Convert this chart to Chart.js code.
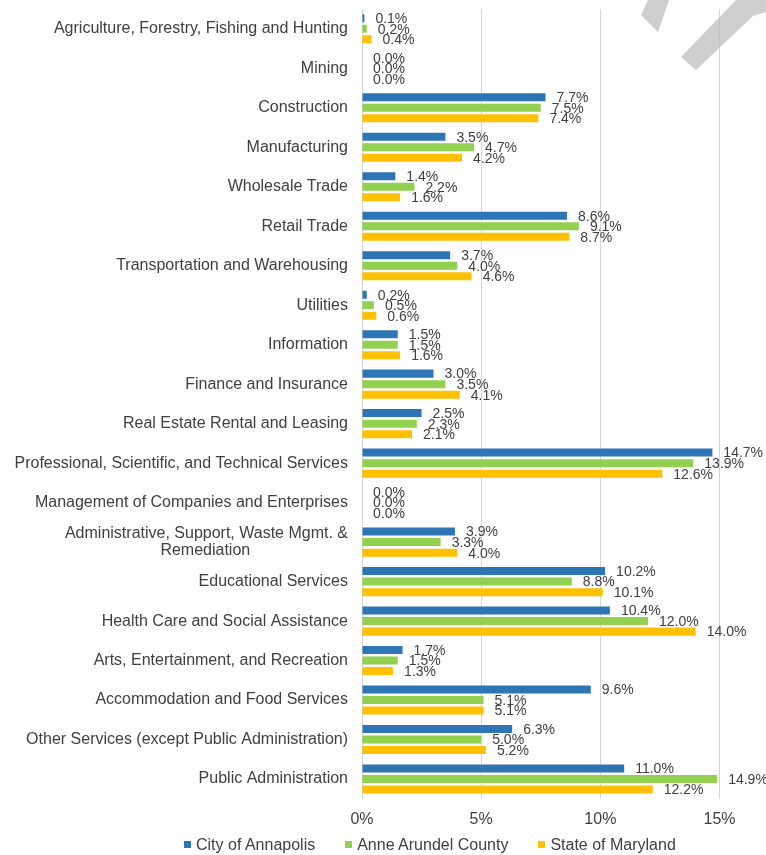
<!DOCTYPE html>
<html>
<head>
<meta charset="utf-8">
<script src="https://cdn.jsdelivr.net/npm/chart.js@4.4.1/dist/chart.umd.min.js"></script>
<style>
  html, body { margin: 0; padding: 0; background: #fff; }
  #wrap { position: relative; width: 766px; height: 855px; overflow: hidden; }
  #legend { position: absolute; left: 184px; top: 836px; display: flex; gap: 30px;
    font: 16px "Liberation Sans", Arial, sans-serif; color: #404040; white-space: nowrap; }
  #legend span.box { display: inline-block; width: 7px; height: 7px; margin-right: 5px; vertical-align: 2px; }
</style>
</head>
<body>
<div id="wrap">
  <canvas id="grafico" width="766" height="855"></canvas>
  <div id="legend"></div>
</div>
<script>
const industrias = [
  'Agriculture, Forestry, Fishing and Hunting',
  'Mining',
  'Construction',
  'Manufacturing',
  'Wholesale Trade',
  'Retail Trade',
  'Transportation and Warehousing',
  'Utilities',
  'Information',
  'Finance and Insurance',
  'Real Estate Rental and Leasing',
  'Professional, Scientific, and Technical Services',
  'Management of Companies and Enterprises',
  ['Administrative, Support, Waste Mgmt. &', 'Remediation'],
  'Educational Services',
  'Health Care and Social Assistance',
  'Arts, Entertainment, and Recreation',
  'Accommodation and Food Services',
  'Other Services (except Public Administration)',
  'Public Administration'
];
const annapolis = [0.1, 0.0, 7.7, 3.5, 1.4, 8.6, 3.7, 0.2, 1.5, 3.0, 2.5, 14.7, 0.0, 3.9, 10.2, 10.4, 1.7, 9.6, 6.3, 11.0];
const anneArundel = [0.2, 0.0, 7.5, 4.7, 2.2, 9.1, 4.0, 0.5, 1.5, 3.5, 2.3, 13.9, 0.0, 3.3, 8.8, 12.0, 1.5, 5.1, 5.0, 14.9];
const maryland = [0.4, 0.0, 7.4, 4.2, 1.6, 8.7, 4.6, 0.6, 1.6, 4.1, 2.1, 12.6, 0.0, 4.0, 10.1, 14.0, 1.3, 5.1, 5.2, 12.2];
const series = ['City of Annapolis', 'Anne Arundel County', 'State of Maryland'];
const colores = ['#2E75B6', '#92D050', '#FFC000'];
const ticksX = [0, 5, 10, 15];

const fuente = '"Liberation Sans", Arial, sans-serif';

// para centrar las líneas cortas de una etiqueta de varias líneas
const medidor = document.createElement('canvas').getContext('2d');
medidor.font = '16px ' + fuente;
function centrarLineas(label) {
  if (!Array.isArray(label)) return label;
  const anchos = label.map(l => medidor.measureText(l).width);
  const max = Math.max(...anchos);
  const espacio = medidor.measureText(' ').width;
  return label.map((l, i) => l + ' '.repeat(Math.round((max - anchos[i]) / 2 / espacio)));
}

// etiquetas de valor al final de cada barra
const etiquetas = {
  id: 'etiquetas',
  afterDatasetsDraw(chart) {
    const ctx = chart.ctx;
    ctx.save();
    ctx.font = '14px ' + fuente;
    ctx.fillStyle = '#404040';
    ctx.textAlign = 'left';
    ctx.textBaseline = 'middle';
    chart.data.datasets.forEach((ds, i) => {
      chart.getDatasetMeta(i).data.forEach((bar, j) => {
        ctx.fillText(ds.data[j].toFixed(1) + '%', bar.x + 11, bar.y + 1);
      });
    });
    ctx.restore();
  }
};

// marca de agua "borrador" cortada arriba a la derecha
const marcaAgua = {
  id: 'marcaAgua',
  afterDraw(chart) {
    const ctx = chart.ctx;
    ctx.save();
    ctx.fillStyle = 'rgba(185,185,185,0.7)';
    ctx.beginPath();
    ctx.moveTo(641, 15); ctx.lineTo(658, 32); ctx.lineTo(669, 0); ctx.lineTo(648, 0);
    ctx.closePath(); ctx.fill();
    ctx.beginPath();
    ctx.moveTo(681, 57); ctx.lineTo(696, 70); ctx.lineTo(753, 16); ctx.lineTo(766, 12);
    ctx.lineTo(766, 0); ctx.lineTo(736, 0);
    ctx.closePath(); ctx.fill();
    ctx.restore();
  }
};

const datasets = [annapolis, anneArundel, maryland].map((d, i) => ({
  label: series[i],
  data: d,
  backgroundColor: colores[i],
  borderWidth: 0,
  categoryPercentage: 0.8,
  barPercentage: 0.76
}));

new Chart(document.getElementById('grafico').getContext('2d'), {
  type: 'bar',
  data: { labels: industrias, datasets: datasets },
  options: {
    indexAxis: 'y',
    responsive: false,
    animation: false,
    layout: { padding: { top: 9, right: 0, bottom: 15, left: 0 } },
    plugins: {
      legend: { display: false },
      tooltip: { enabled: false }
    },
    scales: {
      x: {
        min: 0,
        max: 16.95,
        afterBuildTicks: s => { s.ticks = ticksX.map(v => ({ value: v })); },
        ticks: {
          callback: v => v + '%',
          color: '#404040',
          font: { size: 16, family: fuente },
          padding: 11
        },
        grid: { color: '#d4d4d4', lineWidth: 1, drawTicks: false },
        border: { display: false }
      },
      y: {
        afterFit: s => { s.width = 362; s.paddingTop = 0; s.paddingBottom = 0; },
        ticks: {
          autoSkip: false,
          callback: function (v) { return centrarLineas(this.getLabelForValue(v)); },
          color: '#404040',
          font: { size: 16, family: fuente, lineHeight: 1.05 },
          padding: 14
        },
        grid: { display: false, drawTicks: false },
        border: { display: false }
      }
    }
  },
  plugins: [etiquetas, marcaAgua]
});

const legend = document.getElementById('legend');
series.forEach((s, i) => {
  const item = document.createElement('div');
  item.innerHTML = '<span class="box" style="background:' + colores[i] + '"></span>' + s;
  legend.appendChild(item);
});
</script>
</body>
</html>
